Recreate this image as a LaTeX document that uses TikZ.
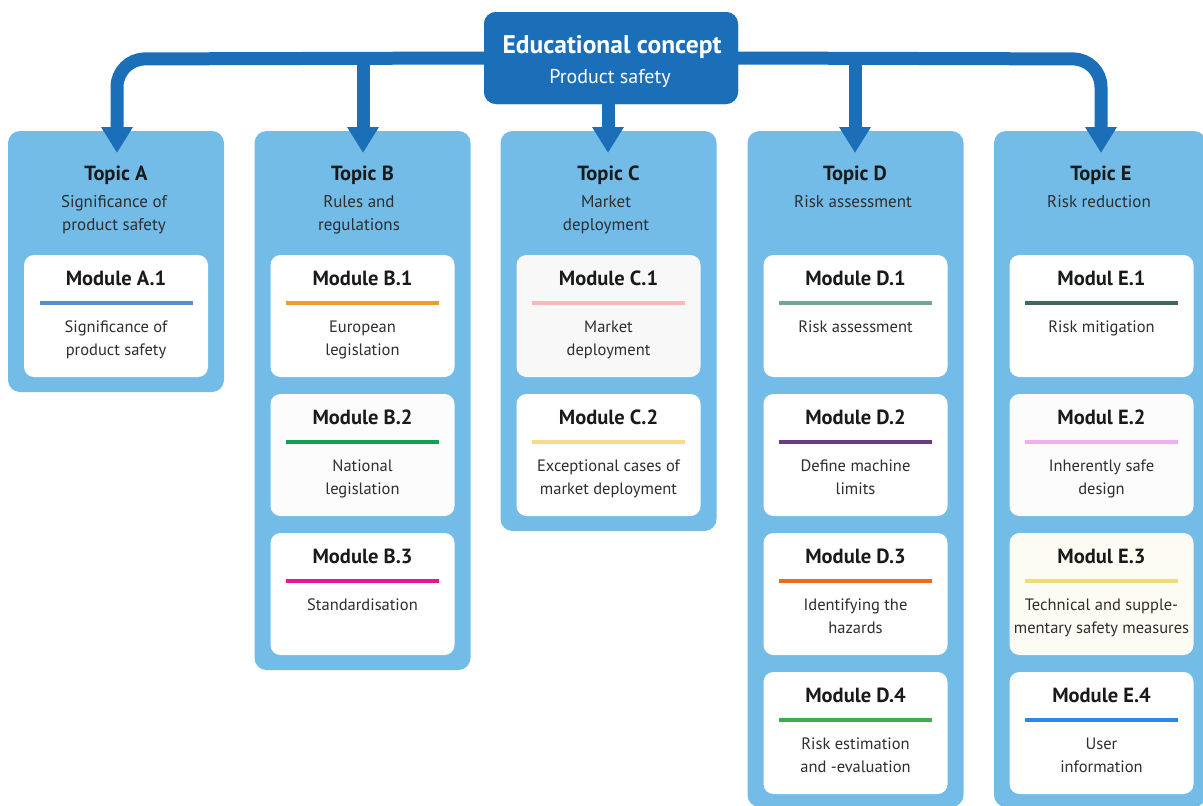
\documentclass[tikz,border=0pt]{standalone}
\usepackage{fontspec}
\setmainfont{PT Sans}
\usetikzlibrary{arrows.meta}
\definecolor{dblue}{HTML}{1B6EB8}
\definecolor{tblue}{HTML}{74BCE8}
\definecolor{txt}{HTML}{1A1A1A}
\definecolor{txtl}{HTML}{2E2E2E}
\definecolor{cA1}{HTML}{5A8AD2}
\definecolor{cB1}{HTML}{F39A2B}
\definecolor{cB2}{HTML}{12A154}
\definecolor{cB3}{HTML}{E8168C}
\definecolor{cC1}{HTML}{FAB8B8}
\definecolor{cC2}{HTML}{F9DB84}
\definecolor{cD1}{HTML}{78A592}
\definecolor{cD2}{HTML}{6A3D7E}
\definecolor{cD3}{HTML}{F26A22}
\definecolor{cD4}{HTML}{3BAF4E}
\definecolor{cE1}{HTML}{3F6A55}
\definecolor{cE2}{HTML}{F0B0F0}
\definecolor{cE3}{HTML}{F2DC78}
\definecolor{cE4}{HTML}{2A86EA}
\definecolor{fgrey}{HTML}{F8F8F8}
\definecolor{fcream}{HTML}{FDFCF4}
\tikzset{
  conn/.style={draw=dblue, line width=13pt, rounded corners=28pt},
  tipped/.style={-{Triangle[width=30pt,length=26pt]}},
  topicbox/.style={fill=tblue, rounded corners=12pt, minimum width=216pt, inner sep=0pt},
  conceptbox/.style={fill=dblue, rounded corners=12pt, minimum width=254pt, minimum height=92pt, inner sep=0pt},
  modbox/.style={rounded corners=10pt, minimum width=184pt, minimum height=122pt, inner sep=0pt},
  modline/.style={line width=4pt},
  ctitle/.style={anchor=base, inner sep=0pt, text=white, font=\bfseries\fontsize{25.5}{28}\selectfont},
  csub/.style={anchor=base, inner sep=0pt, text=white, font=\fontsize{20}{23}\selectfont},
  ttitle/.style={anchor=base, inner sep=0pt, text=txt, font=\bfseries\fontsize{20.5}{24}\selectfont},
  tsub/.style={anchor=base, inner sep=0pt, text=txtl, font=\fontsize{17}{23}\selectfont},
  mtitle/.style={anchor=base, inner sep=0pt, text=txt, font=\bfseries\fontsize{20.5}{24}\selectfont},
  mdesc/.style={anchor=base, inner sep=0pt, text=txtl, font=\fontsize{16.5}{23}\selectfont},
}
% #1 name, #2 x centre, #3 y top, #4 title, #5 line colour, #6 line 1, #7 line 2, #8 fill
\newcommand\modulebox[8]{%
  \node[modbox, fill=#8] (#1) at (#2,#3+61) {};
  \node[mtitle] (#1t) at (#2,#3+30.5) {#4};
  \draw[modline, draw=#5] (#2-76.5,#3+48) -- (#2+76.5,#3+48);
  \node[mdesc] (#1a) at (#2,#3+77) {#6};
  \node[mdesc] (#1b) at (#2,#3+100) {#7};
}
\begin{document}
\begin{tikzpicture}[x=1pt,y=-1pt]
\clip (0,0) rectangle (1203,806);
\fill[white] (0,0) rectangle (1203,806);

% topic boxes
\node[topicbox, minimum height=261pt] (tA) at (116,261.5) {};
\node[topicbox, minimum height=539pt] (tB) at (362.5,400.5) {};
\node[topicbox, minimum height=400pt] (tC) at (608.5,331) {};
\node[topicbox, minimum height=676pt] (tD) at (855.5,469) {};
\node[topicbox, minimum height=676pt, minimum width=212pt] (tE) at (1100,469) {};

% connectors
\coordinate (tipA) at (117,153);
\coordinate (tipB) at (363,153);
\coordinate (tipC) at (608,153);
\coordinate (tipD) at (855,153);
\coordinate (tipE) at (1101,153);
\coordinate (jB) at (363,59);
\coordinate (jD) at (855,59);
\node[conceptbox] (concept) at (611,58) {};
\draw[conn, tipped] (concept.west) -- (117,59) -- (tipA);
\draw[conn, tipped] (concept.east) -- (1101,59) -- (tipE);
\draw[conn, tipped] (jB) -- (tipB);
\draw[conn, tipped] (jD) -- (tipD);
\draw[conn, tipped] (concept.south -| tipC) -- (tipC);

% concept box
\node[conceptbox] (concept2) at (611,58) {};
\node[ctitle] (ct) at (612,53) {Educational concept};
\node[csub] (cs) at (610,83) {Product safety};

% topic texts
\node[ttitle] (tAt) at (116,180.5) {Topic A};
\node[tsub] (tAs1) at (114,207.5) {Significance of};
\node[tsub] (tAs2) at (114,230.5) {product safety};
\node[ttitle] (tBt) at (362.5,180.5) {Topic B};
\node[tsub] (tBs1) at (359,207.5) {Rules and};
\node[tsub] (tBs2) at (359,230.5) {regulations};
\node[ttitle] (tCt) at (608.5,180.5) {Topic C};
\node[tsub] (tCs1) at (606,207.5) {Market};
\node[tsub] (tCs2) at (606,230.5) {deployment};
\node[ttitle] (tDt) at (855,180.5) {Topic D};
\node[tsub] (tDs1) at (853,207.5) {Risk assessment};
\node[ttitle] (tEt) at (1101,180.5) {Topic E};
\node[tsub] (tEs1) at (1099,207.5) {Risk reduction};

% modules
\modulebox{mA1}{116}{255}{Module A.1}{cA1}{Significance of}{product safety}{white}
\modulebox{mB1}{362.5}{255}{Module B.1}{cB1}{European}{legislation}{white}
\modulebox{mB2}{362.5}{394}{Module B.2}{cB2}{National}{legislation}{white!99!black}
\modulebox{mB3}{362.5}{533}{Module B.3}{cB3}{Standardisation}{}{white}
\modulebox{mC1}{608.5}{255}{Module C.1}{cC1}{Market}{deployment}{fgrey}
\modulebox{mC2}{608.5}{394}{Module C.2}{cC2}{Exceptional cases of}{market deployment}{white}
\modulebox{mD1}{855.5}{255}{Module D.1}{cD1}{Risk assessment}{}{white}
\modulebox{mD2}{855.5}{394}{Module D.2}{cD2}{Define machine}{limits}{white}
\modulebox{mD3}{855.5}{533}{Module D.3}{cD3}{Identifying the}{hazards}{white}
\modulebox{mD4}{855.5}{672}{Module D.4}{cD4}{Risk estimation}{and -evaluation}{white}
\modulebox{mE1}{1101.5}{255}{Modul E.1}{cE1}{Risk mitigation}{}{white}
\modulebox{mE2}{1101.5}{394}{Modul E.2}{cE2}{Inherently safe}{design}{white!99!black}
\modulebox{mE3}{1101.5}{533}{Modul E.3}{cE3}{Technical and supple-}{mentary safety measures}{fcream}
\modulebox{mE4}{1101.5}{672}{Module E.4}{cE4}{User}{information}{white}
\end{tikzpicture}
\end{document}
